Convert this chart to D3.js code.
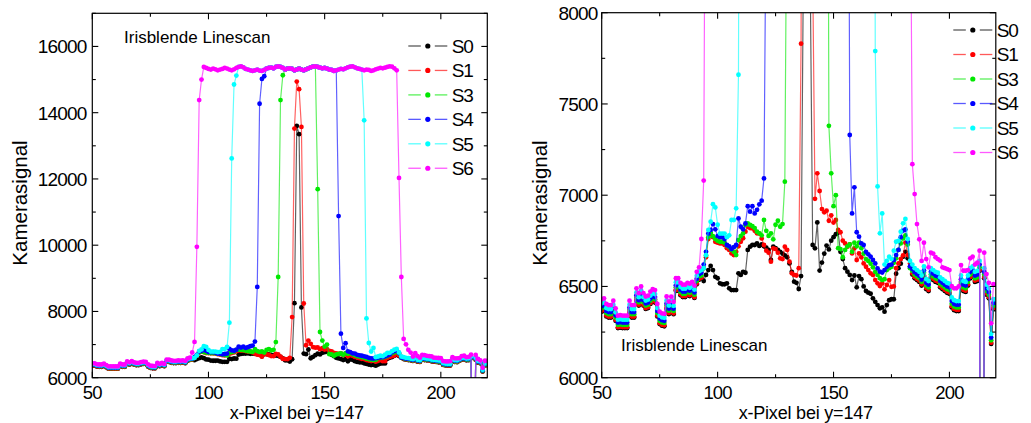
<!DOCTYPE html>
<html><head><meta charset="utf-8">
<script src="https://cdn.jsdelivr.net/npm/d3@7"></script>
<style>
html,body{margin:0;padding:0;background:#fff;}
svg{display:block;font-family:"Liberation Sans",Arial,Helvetica,sans-serif;}
</style></head><body>
<svg id="chart" width="1031" height="423"></svg>
<script>
// x-pixel positions of the line scan (one sample per pixel)
const xPixels = d3.range(50, 221);

const S0 = [
6362,6367,6336,6330,6330,6354,6312,6272,6275,6272,
6272,6272,6354,6330,6330,6422,6395,6432,6395,6377,
6382,6404,6417,6412,6336,6294,6285,6282,6377,6349,
6376,6348,6477,6477,6452,6442,6442,6452,6447,6457,
6437,6512,6537,6545,6530,6563,6590,6612,6590,6553,
6545,6517,6512,6512,6517,6490,6480,6480,6480,6572,
6563,6580,6575,6700,6718,6727,6727,6736,6722,6730,
6720,6712,6700,6645,6718,6710,6700,6690,6680,6670,
6660,6626,6580,6526,6520,6486,6557,8250,13600,13350,
8120,6727,6709,6851,6587,6631,6680,6724,6703,6751,
6770,6786,6795,6690,6650,6600,6581,6563,6535,6560,
6495,6557,6540,6500,6475,6466,6460,6435,6416,6398,
6380,6385,6362,6398,6425,6430,6430,6570,6600,6625,
6663,6690,6654,6608,6565,6545,6535,6525,6505,6555,
6485,6475,6545,6535,6525,6520,6495,6485,6475,6465,
6460,6385,6370,6365,6365,6505,6475,6470,6505,6545,
6555,6525,6530,6585,0,6545,6455,6435,6185,6375,
6375];

const S1 = [
6367,6372,6341,6335,6335,6359,6317,6277,6280,6277,
6277,6277,6359,6335,6335,6427,6400,6437,6400,6382,
6387,6409,6422,6417,6341,6299,6290,6287,6382,6354,
6381,6353,6482,6482,6457,6447,6447,6457,6452,6462,
6442,6517,6542,6548,6600,6660,6760,6787,6770,6745,
6740,6736,6736,6727,6710,6700,6681,6672,6690,6720,
6745,6764,6800,6827,6820,6818,6805,6791,6790,6763,
6727,6696,6685,6636,6709,6705,6685,6654,6650,6718,
6700,6636,6572,6563,6560,6600,7830,13520,14940,14710,
13570,8240,6980,7120,7023,6924,6906,6915,6860,6890,
6850,6864,6810,6797,6751,6736,6718,6730,6681,6709,
6645,6681,6660,6626,6608,6590,6572,6563,6535,6517,
6502,6517,6484,6508,6535,6498,6500,6600,6626,6650,
6670,6740,6672,6626,6572,6552,6542,6532,6512,6562,
6492,6482,6552,6542,6532,6527,6502,6492,6482,6472,
6467,6392,6377,6372,6372,6512,6482,6477,6512,6552,
6562,6532,6537,6592,0,6552,6462,6442,6192,6382,
6382];

const S3 = [
6380,6385,6354,6348,6348,6372,6330,6290,6293,6290,
6290,6290,6372,6348,6348,6440,6413,6450,6413,6395,
6400,6422,6435,6430,6354,6312,6303,6300,6395,6367,
6394,6366,6495,6495,6470,6460,6460,6470,6465,6475,
6455,6530,6555,6560,6600,6670,6770,6795,6775,6760,
6750,6745,6745,6740,6725,6715,6700,6690,6672,6755,
6776,6791,6837,6845,6837,6830,6820,6800,6791,6780,
6864,6805,6777,6791,6758,6838,6860,6827,6842,7074,
9040,14380,15130,15300,15330,15340,15320,15280,15300,15330,
15300,15280,15310,15340,15370,15390,15400,11690,7380,7120,
6940,7000,6710,6705,6660,6700,6720,6730,6690,6740,
6720,6740,6710,6680,6650,6640,6625,6605,6580,6563,
6545,6535,6540,6590,6600,6608,6630,6654,6700,6736,
6763,6780,6730,6600,6585,6565,6555,6545,6525,6575,
6505,6495,6565,6555,6545,6540,6515,6505,6495,6485,
6480,6405,6390,6385,6385,6525,6495,6490,6525,6565,
6575,6545,6550,6605,0,6565,6475,6455,6205,6395,
6395];

const S4 = [
6392,6397,6366,6360,6360,6384,6342,6302,6305,6302,
6302,6302,6384,6360,6360,6452,6425,6462,6425,6407,
6412,6434,6447,6442,6366,6324,6315,6312,6407,6379,
6406,6378,6507,6507,6482,6472,6472,6482,6477,6487,
6467,6542,6567,6575,6620,6690,6790,6810,6842,6813,
6776,6770,6770,6760,6727,6720,6705,6715,6727,6873,
6827,6813,6845,6940,6910,6940,6900,6920,6950,6970,
7092,8740,14270,15020,15100,15330,15350,15360,15340,15380,
15400,15380,15350,15300,15330,15340,15320,15280,15300,15330,
15300,15280,15310,15340,15370,15390,15400,15380,15360,15340,
15350,15330,15300,15290,15260,15280,10880,7330,6900,7043,
6797,6773,6736,6727,6690,6676,6663,6645,6626,6599,
6581,6576,6590,6608,6617,6620,6645,6672,6700,6770,
6806,6812,6745,6610,6595,6578,6568,6558,6538,6588,
6520,6510,6580,6570,6560,6555,6530,6520,6510,6500,
6495,6420,6405,6400,6400,6540,6510,6505,6540,6580,
6590,6560,6565,6620,0,6580,6490,6470,6220,6410,
6410];

const S5 = [
6408,6413,6382,6376,6376,6400,6358,6318,6321,6318,
6318,6318,6400,6376,6376,6468,6441,6478,6441,6423,
6428,6450,6463,6458,6382,6340,6331,6328,6423,6395,
6422,6394,6523,6523,6498,6488,6488,6498,6493,6503,
6483,6558,6583,6590,6600,6672,6810,6855,6951,6933,
6838,6790,6790,6790,6770,6780,6864,6864,6928,7660,
12620,14850,15120,15380,15400,15370,15320,15300,15280,15260,
15280,15300,15270,15260,15290,15330,15350,15360,15340,15380,
15400,15380,15350,15300,15330,15340,15320,15280,15300,15330,
15300,15280,15310,15340,15370,15390,15400,15380,15360,15340,
15350,15330,15300,15290,15260,15280,15300,15320,15310,15340,
15370,15390,15400,15370,15340,15320,15300,13770,7790,7048,
6791,6900,6620,6640,6663,6650,6696,6745,6750,6800,
6846,6870,6760,6640,6620,6600,6590,6580,6560,6610,
6540,6530,6600,6590,6580,6575,6550,6540,6530,6520,
6515,6440,6425,6420,6420,6560,6530,6525,6560,6600,
6610,6580,6585,6640,0,6600,6510,6490,6240,6430,
6430];

const S6 = [
6430,6435,6404,6398,6398,6422,6380,6340,6343,6340,
6340,6340,6422,6398,6398,6490,6463,6500,6463,6445,
6450,6472,6485,6480,6404,6362,6353,6350,6445,6417,
6444,6416,6545,6545,6520,6510,6510,6520,6515,6525,
6505,6580,6605,6760,7080,9950,14380,15000,15380,15350,
15320,15300,15330,15310,15280,15300,15320,15350,15330,15300,
15280,15310,15350,15380,15400,15370,15320,15300,15280,15260,
15280,15300,15270,15260,15290,15330,15350,15360,15340,15380,
15400,15380,15350,15300,15330,15340,15320,15280,15300,15330,
15300,15280,15310,15340,15370,15390,15400,15380,15360,15340,
15350,15330,15300,15290,15260,15280,15300,15320,15310,15340,
15370,15390,15400,15370,15340,15320,15300,15280,15300,15290,
15260,15280,15310,15330,15350,15340,15360,15380,15400,15390,
15340,15280,12030,9040,7170,7006,6842,6758,6640,6740,
6650,6605,6685,6680,6660,6650,6642,6605,6600,6595,
6590,6502,6490,6490,6500,6617,6586,6586,6590,6654,
6663,6620,6630,6696,0,6685,6568,6520,6298,6512,
6510];

const seriesNames = ["S0", "S1", "S3", "S4", "S5", "S6"];
const seriesValues = [S0, S1, S3, S4, S5, S6];
const seriesColors = ["#000000", "#ff0000", "#00e800", "#0000ff", "#00ffff", "#ff00ff"];

const xTickLabels = [50, 100, 150, 200];
const xMinorTicks = [50, 75, 100, 125, 150, 175, 200];
const leftYTickLabels = [6000, 8000, 10000, 12000, 14000, 16000];
const leftYMinorTicks = [6000, 7000, 8000, 9000, 10000, 11000, 12000, 13000, 14000, 15000, 16000, 17000];
const rightYTickLabels = [6000, 6500, 7000, 7500, 8000];
const rightYMinorTicks = [6000, 6250, 6500, 6750, 7000, 7250, 7500, 7750, 8000];

const xTitle = "x-Pixel bei y=147";
const yTitle = "Kamerasignal";
const note = "Irisblende Linescan";

const svg = d3.select("#chart");

const panels = [
  {id: "L", x0: 92.3, x1: 487.3, y0: 13.3, y1: 377.7, yDomain: [6000, 17000],
   yMajor: leftYTickLabels, yMinor: leftYMinorTicks, yLabelX: 86.5, yTitleX: 27.3,
   legendX: 408.3, legendY: 46, legendStep: 24.45, noteX: 124, noteY: 43.3},
  {id: "R", x0: 601.7, x1: 995.8, y0: 12.7, y1: 377.7, yDomain: [6000, 8000],
   yMajor: rightYTickLabels, yMinor: rightYMinorTicks, yLabelX: 597.6, yTitleX: 546.5,
   legendX: 953.3, legendY: 30, legendStep: 24.5, noteX: 621, noteY: 350.7}
];

panels.forEach(p => {
  const xs = d3.scaleLinear().domain([50, 220]).range([p.x0, p.x1]);
  const ys = d3.scaleLinear().domain(p.yDomain).range([p.y1, p.y0]);
  const g = svg.append("g");

  g.append("clipPath").attr("id", "clip" + p.id)
    .append("rect").attr("x", p.x0).attr("y", p.y0)
    .attr("width", p.x1 - p.x0).attr("height", p.y1 - p.y0);

  const plot = g.append("g").attr("clip-path", "url(#clip" + p.id + ")");
  const line = d3.line().x(d => xs(d.x)).y(d => ys(d.y));

  seriesValues.forEach((vals, si) => {
    const data = xPixels.map((x, i) => ({x: x, y: vals[i]}));
    plot.append("path").datum(data)
      .attr("d", line).attr("fill", "none")
      .attr("stroke", seriesColors[si]).attr("stroke-width", 1.2)
      .attr("stroke-opacity", 0.62).attr("stroke-linejoin", "round");
    plot.append("g").selectAll("circle").data(data).join("circle")
      .attr("cx", d => xs(d.x)).attr("cy", d => ys(d.y)).attr("r", 2.4)
      .attr("fill", seriesColors[si]);
  });

  // frame
  g.append("rect").attr("x", p.x0).attr("y", p.y0)
    .attr("width", p.x1 - p.x0).attr("height", p.y1 - p.y0)
    .attr("fill", "none").attr("stroke", "#000").attr("stroke-width", 1.2);

  const tk = g.append("g").attr("stroke", "#000").attr("stroke-width", 1.1);
  xMinorTicks.forEach(v => {
    const len = xTickLabels.includes(v) ? 6 : 3.5;
    const X = xs(v);
    tk.append("line").attr("x1", X).attr("x2", X).attr("y1", p.y1).attr("y2", p.y1 - len);
    tk.append("line").attr("x1", X).attr("x2", X).attr("y1", p.y0).attr("y2", p.y0 + len);
  });
  p.yMinor.forEach(v => {
    const len = p.yMajor.includes(v) ? 6 : 3.5;
    const Y = ys(v);
    tk.append("line").attr("x1", p.x0).attr("x2", p.x0 + len).attr("y1", Y).attr("y2", Y);
    tk.append("line").attr("x1", p.x1).attr("x2", p.x1 - len).attr("y1", Y).attr("y2", Y);
  });

  const tl = g.append("g").attr("fill", "#000").style("letter-spacing", "-0.8px");
  xTickLabels.forEach(v => {
    tl.append("text").attr("x", xs(v)).attr("y", 398.5).attr("font-size", 18.5)
      .attr("text-anchor", "middle").text(v);
  });
  p.yMajor.forEach(v => {
    tl.append("text").attr("x", p.yLabelX).attr("y", ys(v)).attr("dy", "0.36em")
      .attr("font-size", 19).attr("text-anchor", "end").text(v);
  });

  g.append("text").attr("x", (p.x0 + p.x1) / 2 + 7).attr("y", 418.5)
    .attr("text-anchor", "middle").attr("font-size", 18)
    .style("letter-spacing", "-0.2px").text(xTitle);
  g.append("text").attr("transform", "translate(" + p.yTitleX + ",203) rotate(-90)")
    .attr("text-anchor", "middle").attr("font-size", 20.5).text(yTitle);

  g.append("text").attr("x", p.noteX).attr("y", p.noteY)
    .attr("font-size", 17).text(note);

  const lg = g.append("g");
  seriesNames.forEach((name, i) => {
    const Y = p.legendY + i * p.legendStep;
    const c = seriesColors[i];
    lg.append("line").attr("x1", p.legendX).attr("x2", p.legendX + 12.5)
      .attr("y1", Y).attr("y2", Y).attr("stroke", c).attr("stroke-width", 1.3).attr("stroke-opacity", 0.65);
    lg.append("line").attr("x1", p.legendX + 26.5).attr("x2", p.legendX + 39)
      .attr("y1", Y).attr("y2", Y).attr("stroke", c).attr("stroke-width", 1.3).attr("stroke-opacity", 0.65);
    lg.append("circle").attr("cx", p.legendX + 19.5).attr("cy", Y).attr("r", 2.6).attr("fill", c);
    lg.append("text").attr("x", p.legendX + 43.5).attr("y", Y).attr("dy", "0.36em")
      .attr("font-size", 19).style("letter-spacing", "-1.2px").text(name);
  });
});
</script>
</body></html>
